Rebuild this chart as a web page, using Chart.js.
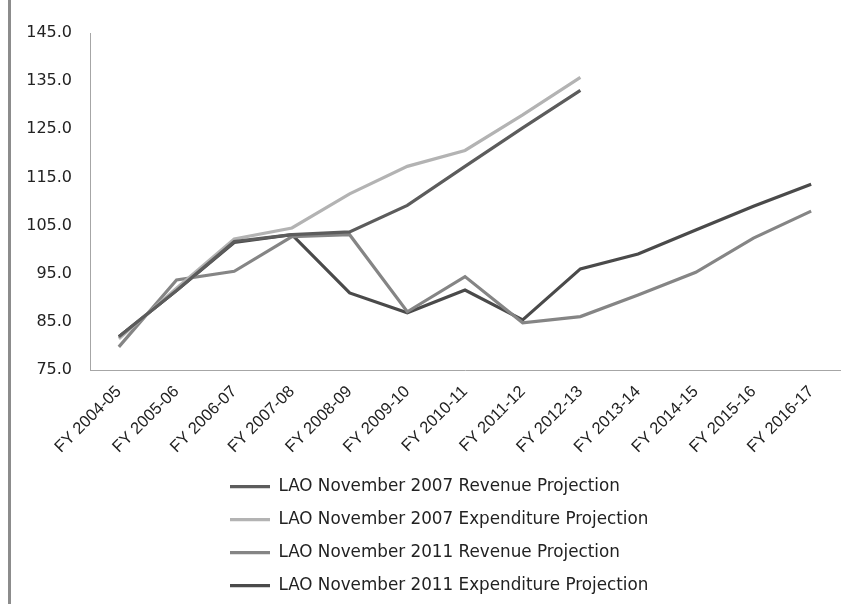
<!DOCTYPE html>
<html>
<head>
<meta charset="utf-8">
<title>LAO Revenue and Expenditure Projections</title>
<script src="https://cdn.jsdelivr.net/npm/chart.js@4/dist/chart.umd.min.js"></script>
<style>
    html, body { margin: 0; padding: 0; background: #fff; }
    #wrap { position: relative; width: 850px; height: 604px; }
    #frameLine { position: absolute; left: 8px; top: 0; width: 3px; height: 604px; background: #8c8c8c; }
</style>
</head>
<body>
<div id="wrap">
    <div id="frameLine"></div>
    <canvas id="projectionChart" width="850" height="604"></canvas>
</div>
<script>
/* ================================================================
   DATA
   ================================================================ */
const fiscalYears = ['FY 2004-05', 'FY 2005-06', 'FY 2006-07', 'FY 2007-08', 'FY 2008-09', 'FY 2009-10',
                     'FY 2010-11', 'FY 2011-12', 'FY 2012-13', 'FY 2013-14', 'FY 2014-15', 'FY 2015-16', 'FY 2016-17'];
const revenue2007     = [81.9, 91.5, 101.7, 103.1, 103.7, 109.2, 117.3, 125.3, 133.1, null, null, null, null];
const expenditure2007 = [81.5, 92.0, 102.2, 104.5, 111.6, 117.3, 120.6, 128.0, 135.8, null, null, null, null];
const revenue2011     = [79.8, 93.7, 95.5, 102.7, 103.1, 87.1, 94.4, 84.8, 86.1, 90.6, 95.3, 102.4, 108.0];
const expenditure2011 = [81.9, 91.5, 101.5, 103.1, 91.0, 86.9, 91.6, 85.4, 96.0, 99.1, 104.1, 109.0, 113.6];
const yTicks = [75, 85, 95, 105, 115, 125, 135, 145];

/* ================================================================
   CHART
   ================================================================ */
const legendPad = 16.2;

// keep the legend rows left-aligned under the middle of the plot
const legendShift = {
    id: 'legendShift',
    afterLayout(chart) {
        if (chart.legend) chart.legend.left = 230 - legendPad;
    }
};

function series(label, data, color) {
    return { label, data, borderColor: color, backgroundColor: color, borderWidth: 3.2,
             pointRadius: 0, pointHoverRadius: 0, tension: 0, spanGaps: false };
}

const ctx = document.getElementById('projectionChart');
new Chart(ctx, {
    type: 'line',
    data: {
        labels: fiscalYears,
        datasets: [
            series('LAO November 2007 Revenue Projection', revenue2007, '#5c5c5c'),
            series('LAO November 2007 Expenditure Projection', expenditure2007, '#b3b3b3'),
            series('LAO November 2011 Revenue Projection', revenue2011, '#858585'),
            series('LAO November 2011 Expenditure Projection', expenditure2011, '#4a4a4a')
        ]
    },
    options: {
        responsive: false,
        animation: false,
        layout: { padding: { top: 33, right: 10, bottom: 0, left: 0 } },
        plugins: {
            tooltip: { enabled: false },
            legend: {
                position: 'bottom',
                align: 'start',
                fullSize: false,
                labels: {
                    usePointStyle: true,
                    pointStyle: 'line',
                    pointStyleWidth: 40,
                    padding: legendPad,
                    color: '#222',
                    font: { family: "'DejaVu Sans', sans-serif", size: 16.8 }
                }
            }
        },
        scales: {
            x: {
                offset: true,
                grid: { display: false, drawTicks: false },
                border: { display: true, color: '#a6a6a6', width: 1 },
                ticks: {
                    autoSkip: false,
                    minRotation: 45,
                    maxRotation: 45,
                    padding: 12,
                    color: '#222',
                    font: { family: "'Liberation Sans', sans-serif", size: 16.5 }
                },
                afterFit: (scale) => { scale.height = 92; }
            },
            y: {
                min: 75,
                max: 145,
                grid: { display: false, drawTicks: false },
                border: { display: true, color: '#a6a6a6', width: 1 },
                afterBuildTicks: (scale) => { scale.ticks = yTicks.map(v => ({ value: v })); },
                ticks: {
                    padding: 18,
                    color: '#222',
                    font: { family: "'DejaVu Sans', sans-serif", size: 16 },
                    callback: v => Number(v).toFixed(1)
                },
                afterFit: (scale) => { scale.width = 90; }
            }
        }
    },
    plugins: [legendShift]
});
</script>
</body>
</html>
